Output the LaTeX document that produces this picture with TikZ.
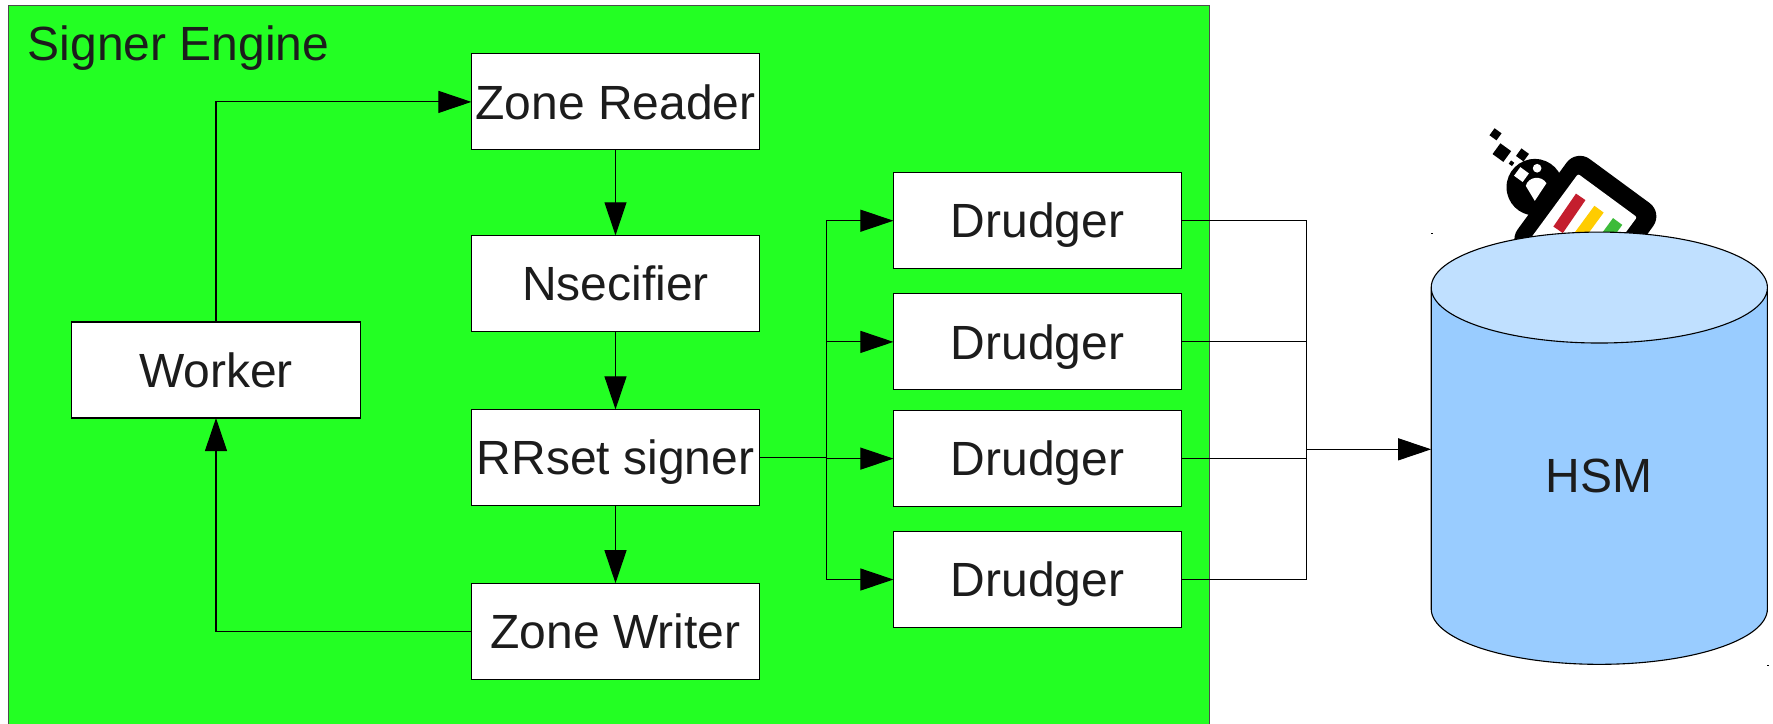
\documentclass[tikz,border=0pt]{standalone}
\usepackage{fontspec}
\setmainfont{Liberation Sans}
\usetikzlibrary{arrows.meta,shapes.geometric}
\definecolor{enginegreen}{HTML}{23FF23}
\definecolor{hsmblue}{HTML}{99CCFF}
\definecolor{hsmtop}{HTML}{C0E0FF}
\definecolor{textgrey}{HTML}{1C1C1C}
\definecolor{barred}{HTML}{C41E2E}
\definecolor{baryellow}{HTML}{FFCC00}
\definecolor{bargreen}{HTML}{3DBB3A}
\tikzset{
  workbox/.style={draw,fill=white,line width=.011cm,minimum width=2.88cm,minimum height=.96cm,inner sep=0pt,outer sep=0pt,text height=.342cm,text depth=0pt,font=\fontsize{13.65pt}{16pt}\selectfont,text=textgrey},
  flow/.style={-{Triangle[length=.33cm,width=.22cm]},line width=.011cm},
  link/.style={line width=.011cm}
}
\begin{document}
\begin{tikzpicture}[x=.01cm,y=-.01cm]
    \path[use as bounding box,clip] (0,0) rectangle (1773,723);
    \node[draw=black!70,fill=enginegreen,line width=.011cm,minimum width=12.005cm,minimum height=7.34cm,inner sep=0pt,outer sep=0pt] (engine) at (609,373) {};
    \node[anchor=base west,inner sep=0pt,font=\fontsize{13.65pt}{16pt}\selectfont,text=textgrey] (enginelabel) at (27,60) {Signer Engine};

    \node[workbox] (reader) at (615.5,101.9) {Zone Reader};
    \node[workbox] (nsec) at (615.5,283.3) {Nsecifier};
    \node[workbox] (signer) at (615.5,457.4) {RRset signer};
    \node[workbox] (writer) at (615.5,631.2) {Zone Writer};
    \node[workbox] (worker) at (216,370) {Worker};
    \node[workbox] (drudgerA) at (1037.5,220.7) {Drudger};
    \node[workbox] (drudgerB) at (1037.5,341.9) {Drudger};
    \node[workbox] (drudgerC) at (1037.5,458.6) {Drudger};
    \node[workbox] (drudgerD) at (1037.5,579.5) {Drudger};

    \begin{scope}[shift={(1400,100)},x=.003333cm,y=-.003333cm]
      \fill[black] (405,262) circle[radius=85];
      \fill[black,rounded corners=.165cm] (530,148) -- (790,339) -- (584,620) -- (324,429) -- cycle;
      \fill[white,rounded corners=.02cm] (535,222) -- (712,352) -- (534,594) -- (357,464) -- cycle;
      \draw[barred,line width=.115cm] (543,291) -- (475,390);
      \draw[baryellow,line width=.115cm] (598,328) -- (509,449);
      \draw[bargreen,line width=.115cm] (654,365) -- (565,486);
      \fill[white] (378,258) .. controls (385,230) and (425,225) .. (440,250) -- (405,303) -- cycle;
      \fill[white,shift={(365,224)},rotate=-36] (-16,-16) rectangle (16,16);
      \fill[white] (412,205) circle[radius=13];
      \fill[black,shift={(287,103)},rotate=-36] (-13,-13) rectangle (13,13);
      \fill[black,shift={(306,158)},rotate=-36] (-20,-20) rectangle (20,20);
      \fill[black,shift={(368,165)},rotate=-36] (-14,-14) rectangle (14,14);
      \fill[black,shift={(335,190)},rotate=-36] (-6,-6) rectangle (6,6);
    \end{scope}

    \node[cylinder,shape border rotate=90,draw,line width=.011cm,aspect=1.04,minimum width=3.36cm,minimum height=4.32cm,inner sep=0pt,outer sep=0pt,cylinder uses custom fill,cylinder body fill=hsmblue,cylinder end fill=hsmtop,font=\fontsize{13.65pt}{16pt}\selectfont,text=textgrey] (hsm) at (1599.3,476.2) {HSM};
    \fill (1431,232.6) rectangle (1433,233.6);
    \fill (1767,664.8) rectangle (1769,665.8);

    \coordinate (busin) at (826.2,457.4);
    \coordinate (busout) at (1306.5,449.3);

    \draw[flow] (worker.north) |- (reader.west);
    \draw[flow] (reader.south) -- (nsec.north);
    \draw[flow] (nsec.south) -- (signer.north);
    \draw[flow] (signer.south) -- (writer.north);
    \draw[flow] (writer.west) -| (worker.south);
    \draw[link] (signer.east) -- (busin);
    \draw[flow] (busin) |- (drudgerA.west);
    \draw[flow] (busin) |- (drudgerB.west);
    \draw[flow] (busin) |- (drudgerC.west);
    \draw[flow] (busin) |- (drudgerD.west);
    \draw[link] (drudgerA.east) -| (busout);
    \draw[link] (drudgerB.east) -| (busout);
    \draw[link] (drudgerC.east) -| (busout);
    \draw[link] (drudgerD.east) -| (busout);
    \draw[flow] (busout) -- (busout -| hsm.west);
  \end{tikzpicture}
\end{document}
